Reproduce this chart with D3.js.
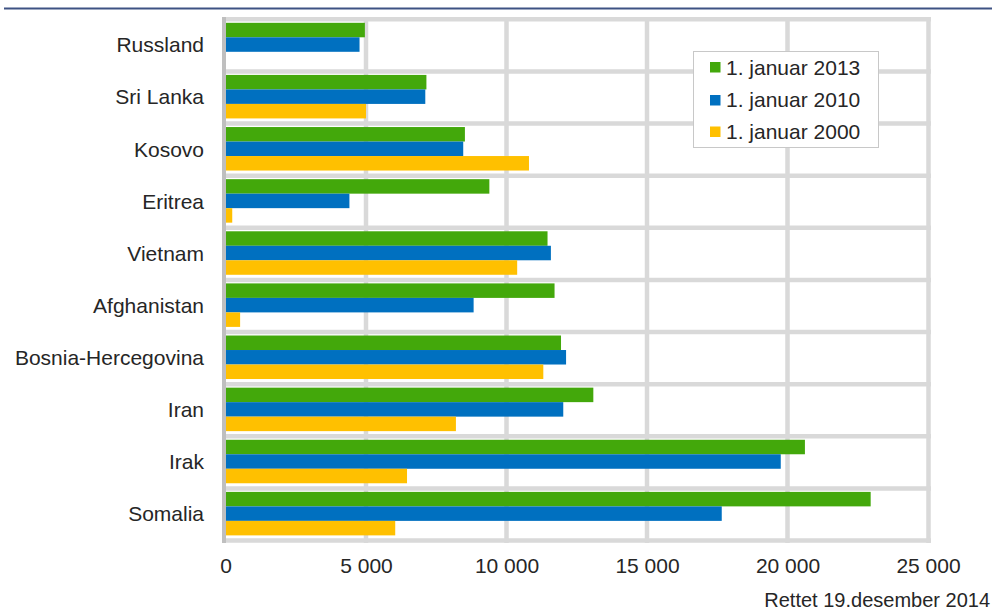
<!DOCTYPE html>
<html><head><meta charset="utf-8">
<script src="https://cdn.jsdelivr.net/npm/d3@7"></script>
<style>
html,body{margin:0;padding:0;background:#fff;}
svg{display:block;font-family:"Liberation Sans",Arial,sans-serif;}
</style></head>
<body><svg id="c" width="992" height="612"></svg>
<script>
const categories = ["Russland","Sri Lanka","Kosovo","Eritrea","Vietnam","Afghanistan","Bosnia-Hercegovina","Iran","Irak","Somalia"];
const seriesNames = ["1. januar 2013","1. januar 2010","1. januar 2000"];
const v2013 = [4960, 7150, 8520, 9390, 11460, 11710, 11940, 13090, 20620, 22960];
const v2010 = [4770, 7110, 8460, 4410, 11580, 8830, 12120, 12020, 19760, 17660];
const v2000 = [null, 5000, 10800, 240, 10380, 520, 11310, 8200, 6460, 6040];
const tickValues = [0, 5000, 10000, 15000, 20000, 25000];
const colors = ["#43a80b", "#0070c0", "#ffc000"];

const seriesValues = [v2013, v2010, v2000];
const svg = d3.select("#c");
const x = d3.scaleLinear().domain([0, 25000]).range([225.5, 928]);
const y = d3.scaleBand().domain(categories).range([19.3, 540.5]);
const sub = d3.scaleBand().domain(seriesNames).range([3.5, 47]);
const loc = d3.formatLocale({decimal: ",", thousands: " ", grouping: [3], currency: ["", ""]});
const fmt = loc.format(",");
const txt = "#262626";

// top rule
svg.append("rect").attr("x", 4).attr("y", 7.5).attr("width", 988).attr("height", 2).attr("fill", "#3e5283");

const grid = svg.append("g");
grid.selectAll("line.v").data(tickValues.slice(1)).join("line")
  .attr("x1", d => x(d) + (d === 25000 ? 0.5 : 0)).attr("x2", d => x(d) + (d === 25000 ? 0.5 : 0))
  .attr("y1", 17).attr("y2", 543)
  .attr("stroke", "#d9d9d9").attr("stroke-width", 4.5);
const hy = categories.map(c => y(c)).concat([y.range()[1]]);
grid.selectAll("line.h").data(hy).join("line")
  .attr("x1", 222).attr("x2", 931)
  .attr("y1", d => d).attr("y2", d => d)
  .attr("stroke", "#d9d9d9").attr("stroke-width", 4.5);
svg.append("line").attr("x1", 224).attr("x2", 224).attr("y1", 17).attr("y2", 543)
  .attr("stroke", "#bfbfbf").attr("stroke-width", 4);

// bars
seriesNames.forEach((s, i) => {
  const data = categories.map((c, j) => ({c, v: seriesValues[i][j]})).filter(d => d.v != null);
  svg.append("g").selectAll("rect").data(data).join("rect")
    .attr("x", x(0) + 0.5)
    .attr("y", d => y(d.c) + sub(s))
    .attr("width", d => Math.max(0, x(d.v) - x(0) - 0.5))
    .attr("height", sub.bandwidth())
    .attr("fill", colors[i]);
});

// category labels
svg.append("g").selectAll("text").data(categories).join("text")
  .attr("x", 204).attr("y", d => y(d) + 33)
  .attr("text-anchor", "end")
  .attr("font-size", 21).attr("fill", txt).text(d => d);

// x axis
const ax = svg.append("g")
  .call(d3.axisBottom(x).tickValues(tickValues).tickFormat(fmt).tickSize(0).tickPadding(0));
ax.select(".domain").remove();
ax.selectAll("text").attr("font-size", 21).attr("fill", txt)
  .attr("font-family", "Liberation Sans, Arial, sans-serif")
  .attr("y", 573).attr("dy", null);

// legend
const lg = svg.append("g");
lg.append("rect").attr("x", 693.5).attr("y", 51.5).attr("width", 185).attr("height", 96)
  .attr("fill", "#fff").attr("stroke", "#c8c8c8").attr("stroke-width", 1);
const sqY = [62, 95, 126.5];
const tY = [75, 106.5, 139];
seriesNames.forEach((s, i) => {
  lg.append("rect").attr("x", 710).attr("y", sqY[i]).attr("width", 10.5).attr("height", 10.5).attr("fill", colors[i]);
  lg.append("text").attr("x", 726).attr("y", tY[i])
    .attr("font-size", 21).attr("fill", txt).text(s);
});

// footnote
svg.append("text").attr("x", 990).attr("y", 607).attr("text-anchor", "end")
  .attr("font-size", 20).attr("fill", txt)
  .text("Rettet 19.desember 2014");
</script></body></html>
